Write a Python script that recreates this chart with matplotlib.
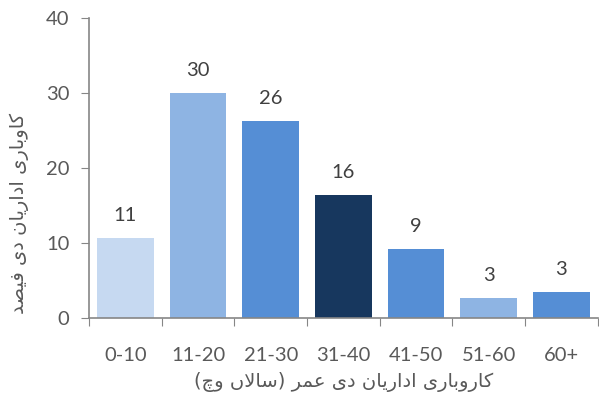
import numpy as np
import matplotlib
matplotlib.use("Agg")
from matplotlib import pyplot as plt

# data
categories = ["0-10", "11-20", "21-30", "31-40", "41-50", "51-60", "60+"]
values = [10.7, 30.0, 26.3, 16.4, 9.2, 2.7, 3.5]
labels = ["11", "30", "26", "16", "9", "3", "3"]
colors = ["#C6D9F1", "#8EB4E3", "#558ED5", "#17375E", "#558ED5", "#8EB4E3", "#558ED5"]

xlabel = "کاروباری اداریان دی عمر (سالاں وچ)"
ylabel = "کاوباری اداریان دی فیصد"

# matplotlib does no arabic shaping, so pick presentation forms by hand
# (isolated, final, initial, medial); right-joining letters have no initial/medial
FORMS = {
	"ا": ("\uFE8D", "\uFE8E", None, None),
	"ب": ("\uFE8F", "\uFE90", "\uFE91", "\uFE92"),
	"د": ("\uFEA9", "\uFEAA", None, None),
	"ر": ("\uFEAD", "\uFEAE", None, None),
	"س": ("\uFEB1", "\uFEB2", "\uFEB3", "\uFEB4"),
	"ص": ("\uFEB9", "\uFEBA", "\uFEBB", "\uFEBC"),
	"ع": ("\uFEC9", "\uFECA", "\uFECB", "\uFECC"),
	"ف": ("\uFED1", "\uFED2", "\uFED3", "\uFED4"),
	"ل": ("\uFEDD", "\uFEDE", "\uFEDF", "\uFEE0"),
	"م": ("\uFEE1", "\uFEE2", "\uFEE3", "\uFEE4"),
	"ن": ("\uFEE5", "\uFEE6", "\uFEE7", "\uFEE8"),
	"و": ("\uFEED", "\uFEEE", None, None),
	"ی": ("\uFBFC", "\uFBFD", "\uFBFE", "\uFBFF"),
	"ک": ("\uFB8E", "\uFB8F", "\uFB90", "\uFB91"),
	"چ": ("\uFB7A", "\uFB7B", "\uFB7C", "\uFB7D"),
	"ں": ("\uFB9E", "\uFB9F", "\uFB9E", "\uFB9F"),
}
MIRROR = {"(": ")", ")": "("}

def shape(text):
	out = []
	i = 0
	n = len(text)
	while i < n:
		c = text[i]
		if c not in FORMS:
			out.append(MIRROR.get(c, c))
			i += 1
			continue
		prev = text[i-1] if i > 0 else None
		join_prev = prev in FORMS and FORMS[prev][2] is not None
		if c == "ل" and i+1 < n and text[i+1] == "ا":
			out.append("\uFEFC" if join_prev else "\uFEFB")
			i += 2
			continue
		nxt = text[i+1] if i+1 < n else None
		join_next = nxt in FORMS and FORMS[c][2] is not None
		iso, fin, ini, med = FORMS[c]
		if join_prev and join_next:
			out.append(med)
		elif join_prev:
			out.append(fin)
		elif join_next:
			out.append(ini)
		else:
			out.append(iso)
		i += 1
	return "".join(reversed(out))

plt.rcParams["font.family"] = ["Lato", "DejaVu Sans"]
grey = "#595959"

fig = plt.figure(figsize=(5.99, 4.0), dpi=100)
ax = fig.add_axes([0.1486, 0.205, 0.8494, 0.75])

x = np.arange(len(categories))
bars = ax.bar(x, values, width=0.78, color=colors, zorder=2)
for b, lab in zip(bars, labels):
	ax.annotate(lab, (b.get_x() + b.get_width()/2, b.get_height()),
				xytext=(0, 10), textcoords="offset points",
				ha="center", va="bottom", fontsize=14.5, color="#404040")

ax.set_xlim(-0.5, len(categories) - 0.5)
ax.set_ylim(0, 40)
ax.set_yticks([0, 10, 20, 30, 40])

# tick marks on the category boundaries, labels in the middle
ax.set_xticks(np.arange(len(categories) + 1) - 0.5)
ax.set_xticklabels([])
ax.set_xticks(x, minor=True)
ax.set_xticklabels(categories, minor=True)
ax.tick_params(axis="x", which="major", length=6, color="#868686", direction="out")
ax.tick_params(axis="x", which="minor", length=0, pad=21, labelsize=14.5, labelcolor=grey)
ax.tick_params(axis="y", length=6, color="#868686", direction="out", labelsize=14.5, labelcolor=grey, pad=8)

for s in ["top", "right"]:
	ax.spines[s].set_visible(False)
for s in ["left", "bottom"]:
	ax.spines[s].set_color("#868686")
	ax.spines[s].set_linewidth(1.2)

ax.set_xlabel(shape(xlabel), fontsize=14, color=grey, family=["DejaVu Sans"])
ax.xaxis.set_label_coords(0.5, -0.18)
ax.set_ylabel(shape(ylabel), fontsize=14, color=grey, family=["DejaVu Sans"])
ax.yaxis.set_label_coords(-0.118, 0.35)

fig.savefig("out.png", dpi=100)
